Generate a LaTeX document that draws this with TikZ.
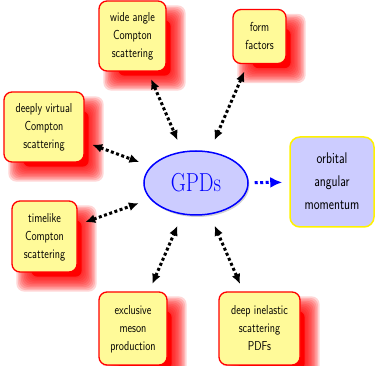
\documentclass[tikz,border=0pt]{standalone}
\usepackage{fontspec}
\usepackage{graphicx}
\usetikzlibrary{shapes.geometric,arrows.meta,backgrounds,shadows}
\newcommand{\boxtxt}[1]{\scalebox{0.8}[1]{\begin{tabular}{@{}c@{}}#1\end{tabular}}}
\tikzset{
  rbox/.style={draw=red, line width=1.3pt, fill=yellow!40, rounded corners=8pt,
    inner sep=0pt, font=\fontsize{13}{18}\selectfont\sffamily},
  obox/.style={draw=yellow, line width=1.5pt, fill=blue!20, rounded corners=10pt,
    inner sep=0pt, font=\fontsize{15.5}{23}\selectfont\sffamily},
  link/.style={line width=3pt, dash pattern=on 3pt off 2.5pt,
    {Latex[length=10pt,width=9pt]}-{Latex[length=10pt,width=9pt]},
    shorten <=8pt, shorten >=12pt},
  bluelink/.style={blue, line width=3pt, dash pattern=on 3pt off 2.5pt,
    -{Latex[length=12pt,width=11pt]}, shorten <=6pt, shorten >=7pt},
}
\begin{document}
\begin{tikzpicture}[x=1pt,y=-1pt]
\useasboundingbox (0,0) rectangle (376,366);
% central node
\node[ellipse, draw=blue, line width=1.5pt, fill=blue!20, text=blue,
  minimum width=104pt, minimum height=64pt, inner sep=0pt,
  drop shadow={shadow xshift=1.5pt, shadow yshift=-2pt, opacity=0.35}]
  (gpd) at (196,183) {\scalebox{0.8}[1]{\fontsize{26}{30}\selectfont GPDs}};
% surrounding boxes
\node[rbox, minimum width=67pt, minimum height=70pt] (wac) at (132.5,36)
  {\boxtxt{wide angle\\Compton\\scattering}};
\node[rbox, minimum width=53pt, minimum height=54pt] (ff) at (259.5,36.5)
  {\boxtxt{form\\factors}};
\node[rbox, minimum width=80pt, minimum height=70pt] (dvcs) at (44,127)
  {\boxtxt{deeply virtual\\Compton\\scattering}};
\node[rbox, minimum width=65pt, minimum height=71pt] (tcs) at (44.5,236.5)
  {\boxtxt{timelike\\Compton\\scattering}};
\node[rbox, minimum width=68pt, minimum height=73pt] (emp) at (133,328.5)
  {\boxtxt{exclusive\\meson\\production}};
\node[rbox, minimum width=81pt, minimum height=73pt] (dis) at (259.5,328.5)
  {\boxtxt{deep inelastic\\scattering\\PDFs}};
\node[obox, minimum width=84pt, minimum height=90pt] (orb) at (332,182)
  {\boxtxt{orbital\\angular\\momentum}};
% fuzzy red shadows
\begin{scope}[on background layer]
\foreach \n in {wac,ff,dvcs,tcs,emp,dis}{
  \fill[red, rounded corners=6pt]
    ([shift={(20,4)}]\n.south west) rectangle ([shift={(4,20)}]\n.north east);
  \foreach \e in {-6.5,-5,-3.5,-2,-0.5,1,2.5,4,5.5,7}{
    \fill[red, opacity=0.16, rounded corners=8pt]
      ([shift={({12-(\e)},{12+(\e)})}]\n.south west) rectangle
      ([shift={({12+(\e)},{12-(\e)})}]\n.north east);
  }
}
\end{scope}
% connectors
\draw[link] (wac) -- (gpd);
\draw[link] (ff) -- (gpd);
\draw[link] (dvcs) -- (gpd);
\draw[link] (tcs) -- (gpd);
\draw[link] (emp) -- (gpd);
\draw[link] (dis) -- (gpd);
\draw[bluelink] (gpd) -- (orb);
\end{tikzpicture}
\end{document}
